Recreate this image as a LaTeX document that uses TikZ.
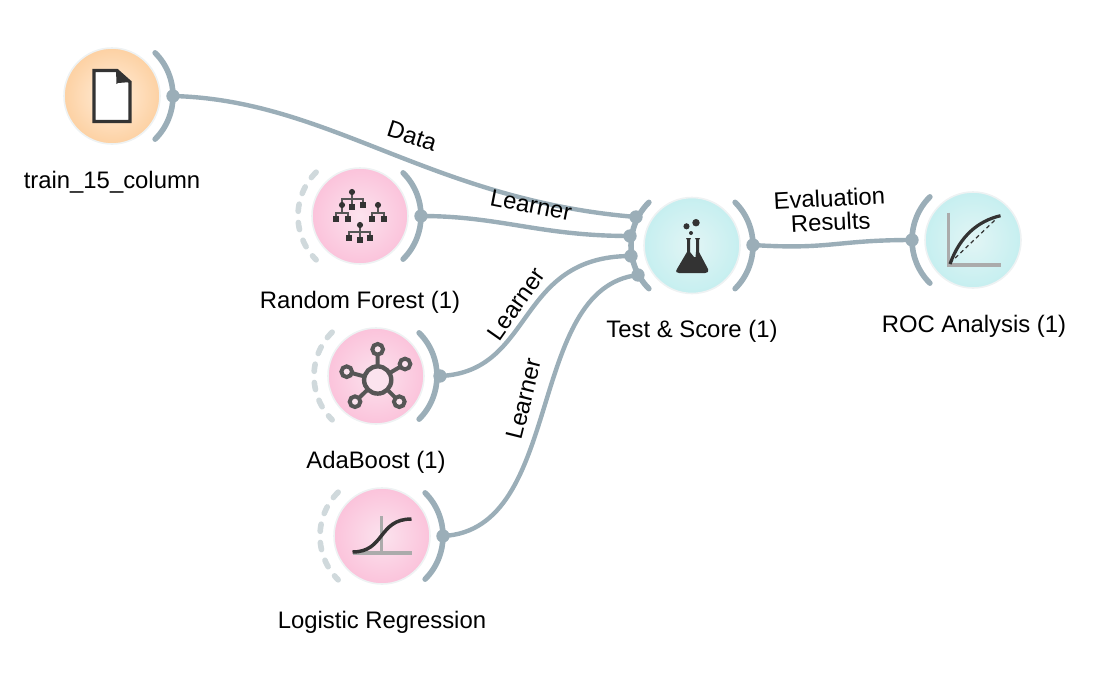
\documentclass[tikz,border=0pt]{standalone}
\usepackage{fontspec}
\usetikzlibrary{calc}
\setmainfont{Liberation Sans}
\definecolor{chan}{HTML}{9BAEB8}
\definecolor{chanlight}{HTML}{D0D9DC}
\definecolor{ink}{HTML}{333333}
\definecolor{inkgrey}{HTML}{565656}
\definecolor{axisgrey}{HTML}{ABABAB}
\definecolor{halo}{HTML}{EEF2F3}
\definecolor{orin}{HTML}{FFEEDB}
\definecolor{orout}{HTML}{FDD1A3}
\definecolor{piin}{HTML}{FBE3EE}
\definecolor{piout}{HTML}{FBC3DB}
\definecolor{tein}{HTML}{E2F5F5}
\definecolor{teout}{HTML}{C6EFF0}
\tikzset{
  every node/.style={font=\fontsize{17.9pt}{18pt}\selectfont, text=black, inner sep=0pt},
  widget/.style={circle, minimum size=72pt, draw=halo, line width=1.2pt},
  orangew/.style={widget, inner color=orin, outer color=orout},
  pinkw/.style={widget, inner color=piin, outer color=piout},
  tealw/.style={widget, inner color=tein, outer color=teout},
  chanarc/.style={draw=chan, line width=4.2pt, line cap=round},
  dasharc/.style={draw=chanlight, line width=4.2pt, line cap=round, dash pattern=on 5.4pt off 8.4pt},
  dotn/.style={circle, fill=chan, minimum size=10pt},
  link/.style={draw=chan, line width=3.3pt},
  lab/.style={align=center, anchor=center},
  dk/.style={fill=ink, draw=none},
  twig/.style={draw=inkgrey, line width=1.4pt},
}
\newcommand{\outarc}[1]{\draw[chanarc] ($(#1.center)+(45:45.75pt)$) arc[start angle=45,end angle=-45,radius=45.75pt];}
\newcommand{\inarc}[1]{\draw[chanarc] ($(#1.center)+(135:45.75pt)$) arc[start angle=135,end angle=225,radius=45.75pt];}
\newcommand{\dasharc}[1]{\draw[dasharc] ($(#1.center)+(135:46.5pt)$) arc[start angle=135,end angle=225,radius=46.5pt];}
\newcommand{\sq}[2]{\fill[dk] ($(#1,#2)+(-2.3pt,-2.3pt)$) rectangle ++(4.6pt,4.6pt);}
\newcommand{\dt}[3]{\fill[dk] (#1,#2) circle (#3pt);}
\begin{document}
\begin{tikzpicture}[x=0.75pt,y=-0.75pt]
\useasboundingbox (0,0) rectangle (1120,678);
% widgets
\node[orangew] (file) at (112,96) {};
\node[pinkw] (rf) at (360,216) {};
\node[pinkw] (ada) at (376,376) {};
\node[pinkw] (logit) at (382,536) {};
\node[tealw] (test) at (692,245.5) {};
\node[tealw] (roc) at (973,240) {};
% channel arcs
\outarc{file}
\outarc{rf}\dasharc{rf}
\outarc{ada}\dasharc{ada}
\outarc{logit}\dasharc{logit}
\inarc{test}\outarc{test}
\inarc{roc}
% port dots
\node[dotn] (fileout) at (173,96) {};
\node[dotn] (rfout) at (421,216) {};
\node[dotn] (adaout) at (440,376) {};
\node[dotn] (logitout) at (443,536) {};
\node[dotn] (testa) at (636,217) {};
\node[dotn] (testb) at (630,236) {};
\node[dotn] (testc) at (631,256) {};
\node[dotn] (testd) at (638,275) {};
\node[dotn] (testout) at (753,245) {};
\node[dotn] (rocin) at (912,240) {};
% links
\draw[link] (fileout.center) .. controls (330,100) and (430,200) .. (testa.center);
\draw[link] (rfout.center) .. controls (500,216) and (540,236) .. (testb.center);
\draw[link] (adaout.center) .. controls (535,372) and (515,256) .. (testc.center);
\draw[link] (logitout.center) .. controls (565,530) and (525,288) .. (testd.center);
\draw[link] (testout.center) .. controls (830,250) and (835,240) .. (rocin.center);
% file icon
\draw[ink, line width=2.4pt, fill=white, line join=miter] (94,70.5) -- (117,70.5) -- (130,82) -- (130,121.5) -- (94,121.5) -- cycle;
\fill[ink] (116,69.5) -- (131,82) -- (118,83) -- (116.5,84) -- cycle;
% forest icon
\draw[twig] (352,192) -- (352,198) (342,205) -- (342,199) -- (363,199) -- (363,205) (352,198) -- (352,207);
\draw[twig] (342,205) -- (342,213) (336,219) -- (336,213) -- (348,213) -- (348,219);
\draw[twig] (378,205) -- (378,213) (372,219) -- (372,213) -- (384,213) -- (384,219);
\draw[twig] (360,225) -- (360,232) (349,238) -- (349,232) -- (370,232) -- (370,238) (360,232) -- (360,240);
\dt{352}{192}{2.3}\dt{342}{205}{2.3}\dt{378}{205}{2.3}\dt{360}{225}{2.3}
\sq{352}{207}\sq{363}{205}\sq{336}{219}\sq{348}{219}\sq{372}{219}\sq{384}{219}\sq{349}{238}\sq{360}{240}\sq{370}{238}
% adaboost icon
\draw[inkgrey, line width=3pt]
 (377.7,380) -- (377.7,349.3) (377.7,380) -- (405,364) (377.7,380) -- (346.7,371.7)
 (377.7,380) -- (355,401.7) (377.7,380) -- (399.3,401.7);
\foreach \x/\y in {377.7/349.3,405/364,346.7/371.7,355/401.7,399.3/401.7}
  \draw[inkgrey, line width=3pt, fill=piin] (\x,\y) circle (4pt);
\draw[inkgrey, line width=3.3pt, fill=piin] (377.7,380) circle (10.2pt);
% logistic icon
\draw[axisgrey, line width=2.4pt] (352.7,553) -- (411.7,553) (381.7,516) -- (381.7,553);
\draw[ink, line width=2.6pt] (352.5,552) .. controls (385,552) and (378,519) .. (411.5,519);
% flask icon
\dt{696}{222.7}{2.8}\dt{686.5}{226.3}{2.3}\dt{691}{233}{1.5}
\fill[ink] (686,238) -- (691,238) -- (690,240) -- (690,252) -- (694,257) -- (695.5,257) -- (696,252) -- (696,240) -- (695,238) -- (700,238) -- (699,240) -- (699,252) -- (708,269) .. controls (709,272) and (707,273) .. (705,273) -- (679,273) .. controls (677,273) and (675,272) .. (677,269) -- (687,252) -- (687,240) -- cycle;
\fill[ink] (686,257) -- (700,257) -- (702,262) -- (684,262) -- cycle;
% roc icon
\draw[axisgrey, line width=2.4pt] (948.5,212.7) -- (948.5,265) -- (1001,265);
\draw[ink, line width=0.9pt, dash pattern=on 3pt off 2.4pt] (950,263) -- (995,220);
\draw[ink, line width=2.4pt] (950,264) .. controls (960,236) and (978,221) .. (1000.5,215.7);
% captions
\node[lab] (capfile) at (112,182) {train\_15\_column};
\node[lab] (caprf) at (360,302) {Random Forest (1)};
\node[lab] (capada) at (376,462) {AdaBoost (1)};
\node[lab] (caplogit) at (382,622) {Logistic Regression};
\node[lab] (captest) at (692,331) {Test \& Score (1)};
\node[lab] (caproc) at (974,326) {ROC Analysis (1)};
% link labels
\node[lab, rotate=-18] (ldata) at (412,136) {Data};
\node[lab, rotate=-11] (lrf) at (531,205) {Learner};
\node[lab, rotate=55] (lada) at (516,304) {Learner};
\node[lab, rotate=76] (llog) at (524,399) {Learner};
\node[lab, rotate=3] (leval) at (830,210) {Evaluation\\Results};
\end{tikzpicture}
\end{document}
